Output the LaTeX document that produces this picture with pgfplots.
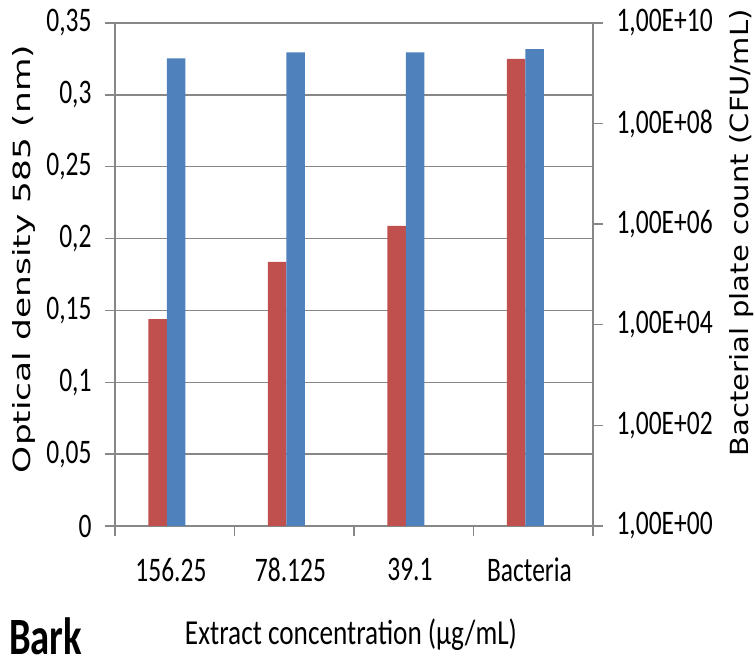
\documentclass[border=0pt]{standalone}
\usepackage{fontspec}
\setmainfont{Carlito}
\newfontfamily\labfont{DejaVu Sans}
\usepackage{pgfplots}
\pgfplotsset{compat=1.18}
\definecolor{cred}{HTML}{C0504D}
\definecolor{cblue}{HTML}{4F81BD}
\definecolor{cgrid}{HTML}{878787}
\begin{document}
\begin{tikzpicture}[x=1pt,y=1pt]
\path[use as bounding box] (0,0) rectangle (755,663);
\begin{axis}[
 at={(115pt,137pt)}, anchor=south west, scale only axis,
 width=478pt, height=503pt,
 xmin=-0.435, xmax=3.565, ymin=0, ymax=0.35,
 axis x line*=bottom, axis y line*=left,
 axis line style={cgrid, line width=1.4pt, -},
 tick style={cgrid, line width=1.4pt},
 major tick length=10pt, tick align=outside,
 ytick={0,0.05,0.1,0.15,0.2,0.25,0.3,0.35},
 yticklabels={0,{0,05},{0,1},{0,15},{0,2},{0,25},{0,3},{0,35}},
 yticklabel style={xshift=-10pt},
 ymajorgrids, grid style={cgrid, line width=1.4pt},
 xtick={-0.435,0.565,1.565,2.565,3.565}, xticklabels={{},{},{},{},{}},
 extra x ticks={0,1,2,3},
 extra x tick labels={156.25,78.125,39.1,Bacteria},
 extra x tick style={major tick length=0pt, grid=none,
   tick label style={yshift=-20pt, xshift=4pt}},
 tick label style={font=\fontsize{25.5}{30}\selectfont, yscale=1.35, text=black},
 ybar, bar width=18.5pt, bar shift=-9.25pt,
]
\addplot[fill=cred, draw=none] coordinates {(0,0.144) (1,0.1837) (2,0.2088) (3,0.325)};
\end{axis}
\begin{axis}[
 at={(115pt,137pt)}, anchor=south west, scale only axis,
 width=478pt, height=503pt,
 xmin=-0.435, xmax=3.565, ymode=log, ymin=1, ymax=1e10,
 axis x line=none, axis y line*=right,
 axis line style={cgrid, line width=1.4pt, -},
 tick style={cgrid, line width=1.4pt},
 major tick length=10pt, tick align=outside,
 ytick={1,1e2,1e4,1e6,1e8,1e10},
 yticklabels={{1,00E+00},{1,00E+02},{1,00E+04},{1,00E+06},{1,00E+08},{1,00E+10}},
 yticklabel style={xshift=10pt},
 minor y tick num=0, yminorticks=false,
 tick label style={font=\fontsize{25.5}{30}\selectfont, yscale=1.35, text=black},
 ybar, bar width=18.5pt, bar shift=9.25pt,
]
\addplot[fill=cblue, draw=none] coordinates {(0,1.99e9) (1,2.61e9) (2,2.61e9) (3,3.04e9)};
\end{axis}
\node[rotate=90, font=\labfont\fontsize{23.7}{28}\selectfont, inner sep=0pt] at (24,404) {\resizebox{428pt}{\height}{Optical density 585 (nm)}};
\node[rotate=90, font=\labfont\fontsize{25}{30}\selectfont, inner sep=0pt] at (742,430) {\resizebox{447pt}{\height}{Bacterial plate count (CFU/mL)}};
\node[anchor=base west, inner sep=0pt, font=\fontsize{38}{44}\selectfont\bfseries] at (9,8) {\resizebox{73pt}{1.38\height}{Bark}};
\node[anchor=base, inner sep=0pt, font=\fontsize{27}{32}\selectfont] at (351,18) {\resizebox{332pt}{1.3\height}{Extract concentration (µg/mL)}};
\end{tikzpicture}
\end{document}
